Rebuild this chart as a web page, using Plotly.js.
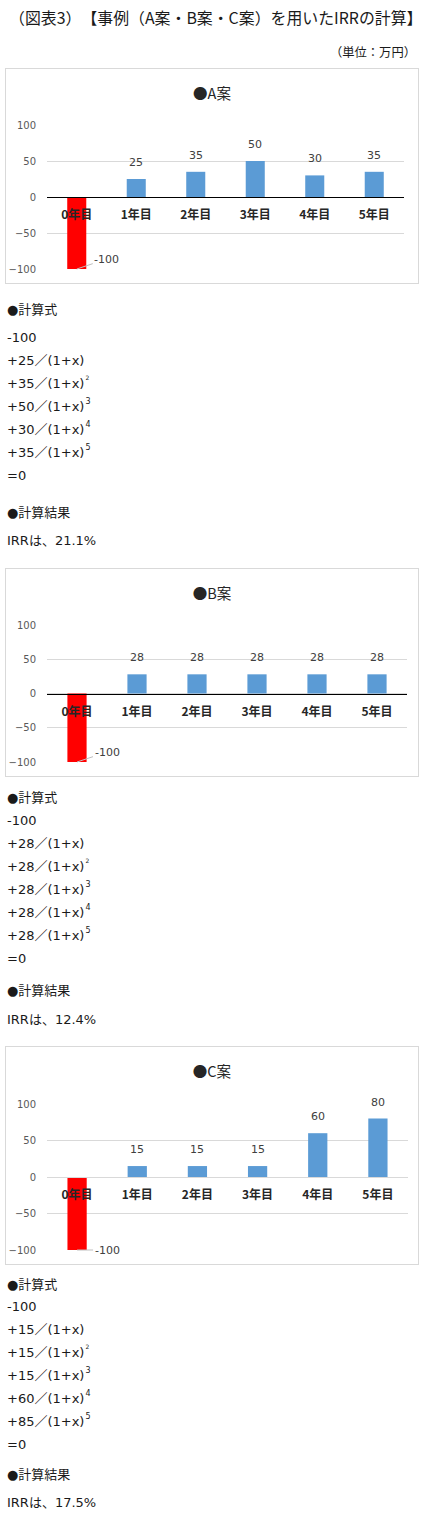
<!DOCTYPE html>
<html>
<head>
<meta charset="utf-8">
<script src="https://cdn.plot.ly/plotly-3.0.1.min.js"></script>
<style>
body { margin:0; background:#fff; font-family:"DejaVu Sans", "Noto Sans CJK JP", sans-serif; color:#1a1a1a; }
#page { position:relative; width:425px; height:1520px; overflow:hidden; }
.t { position:absolute; left:7px; font-size:13px; line-height:20px; white-space:nowrap; text-spacing-trim:space-all; }
.h { font-family:"Noto Sans CJK JP", sans-serif; }
.box { position:absolute; left:5px; width:412px; border:1px solid #d9d9d9; }
sup { font-size:8px; line-height:0; vertical-align:0; position:relative; top:-7px; margin-left:1px; }
sup.s2 { font-size:6px; top:-8px; }
</style>
</head>
<body>
<div id="page">
  <div class="t h" style="left:9px;top:8px;font-size:15.9px;">（図表3）【事例（A案・B案・C案）を用いたIRRの計算】</div>
  <div class="t h" style="left:auto;right:9px;top:42px;font-size:12.3px;">（単位：万円）</div>
  <div class="box" id="boxA" style="top:68px;height:214px;"><div id="chartA"></div></div>
  <div class="box" id="boxB" style="top:568px;height:207px;"><div id="chartB"></div></div>
  <div class="box" id="boxC" style="top:1046px;height:217px;"><div id="chartC"></div></div>
</div>
<script>
var years = ['0年目', '1年目', '2年目', '3年目', '4年目', '5年目'];
var cashA = [-100, 25, 35, 50, 30, 35];
var cashB = [-100, 28, 28, 28, 28, 28];
var cashC = [-100, 15, 15, 15, 60, 80];

// formula text (C uses 85 in the last term, as written in the original)
var formulaA = [-100, 25, 35, 50, 30, 35];
var formulaB = [-100, 28, 28, 28, 28, 28];
var formulaC = [-100, 15, 15, 15, 60, 85];
var irrA = '21.1%';
var irrB = '12.4%';
var irrC = '17.5%';

var numFont = 'DejaVu Sans, Noto Sans CJK JP';

function drawChart(id, name, vals, h, m, zeroColor, negAy) {
  var colors = vals.map(function(v){ return v < 0 ? '#FF0000' : '#5B9BD5'; });
  var notes = [];
  for (var i = 0; i < vals.length; i++) {
    if (vals[i] >= 0) {
      notes.push({ x: years[i], y: vals[i], xref:'x', yref:'y', text: String(vals[i]),
        showarrow:false, yanchor:'bottom', yshift:8,
        font:{ size:11, color:'#404040', family:numFont } });
    } else {
      notes.push({ x: years[i], y: vals[i], xref:'x', yref:'y', text: String(vals[i]),
        showarrow:true, arrowhead:0, arrowwidth:1, arrowcolor:'#bfbfbf',
        ax:30, ay:negAy, standoff:0,
        font:{ size:11, color:'#404040', family:numFont } });
    }
  }
  var data = [{
    x: years,
    y: vals,
    type: 'bar',
    width: 0.32,
    marker: { color: colors },
    hoverinfo: 'none'
  }];
  var layout = {
    width: 412, height: h,
    margin: m,
    paper_bgcolor: '#fff', plot_bgcolor: '#fff',
    font: { family: 'Noto Sans CJK JP', color:'#404040' },
    showlegend: false,
    title: { text: name, font:{ size:14.5, color:'#262626' }, x:0.5, xref:'container',
      y: 1 - 25/h, yref:'container', yanchor:'middle' },
    xaxis: {
      type:'category', anchor:'free', position:0.5,
      showline:true, linecolor: zeroColor, linewidth:1,
      showgrid:false, ticks:'', ticklabelstandoff:7,
      tickfont:{ size:12, color:'#262626', weight:'bold' }
    },
    yaxis: {
      range:[-100, 100], dtick:50, showgrid:true, gridcolor:'#d9d9d9', gridwidth:1,
      zeroline:false, showline:false, ticks:'', ticklabelstandoff:10,
      tickfont:{ size:10, color:'#595959', family:numFont }
    },
    annotations: notes
  };
  Plotly.newPlot(id, data, layout, { staticPlot:true, displayModeBar:false });
}

drawChart('chartA', '●A案', cashA, 214, { l:41, r:14, t:56, b:14 }, '#000000', -10);
drawChart('chartB', '●B案', cashB, 207, { l:41, r:11, t:56, b:14 }, '#000000', -10);
drawChart('chartC', '●C案', cashC, 217, { l:41, r:10, t:57, b:14 }, '#d9d9d9', 0);

function place(y, html) {
  var d = document.createElement('div');
  d.className = 't';
  d.style.top = (y - 10) + 'px';
  d.innerHTML = html;
  document.getElementById('page').appendChild(d);
}

function formulaLines(vals) {
  var out = [];
  for (var i = 0; i < vals.length; i++) {
    if (i == 0) out.push(String(vals[i]));
    else {
      var s = '+' + vals[i] + '／(1+x)';
      if (i == 2) s += '<sup class="s2">2</sup>';
      else if (i > 2) s += '<sup>' + i + '</sup>';
      out.push(s);
    }
  }
  out.push('=0');
  return out;
}

function section(vals, irr, head, first, resHead, res) {
  place(head, '●<span class="h">計算式</span>');
  var lines = formulaLines(vals);
  for (var i = 0; i < lines.length; i++) place(first + 23 * i, lines[i]);
  place(resHead, '●<span class="h">計算結果</span>');
  place(res, 'IRR<span class="h">は、</span>' + irr);
}

section(formulaA, irrA, 309, 338, 512, 540);
section(formulaB, irrB, 797, 821, 990, 1019);
section(formulaC, irrC, 1284, 1307, 1474, 1502);
</script>
</body>
</html>
